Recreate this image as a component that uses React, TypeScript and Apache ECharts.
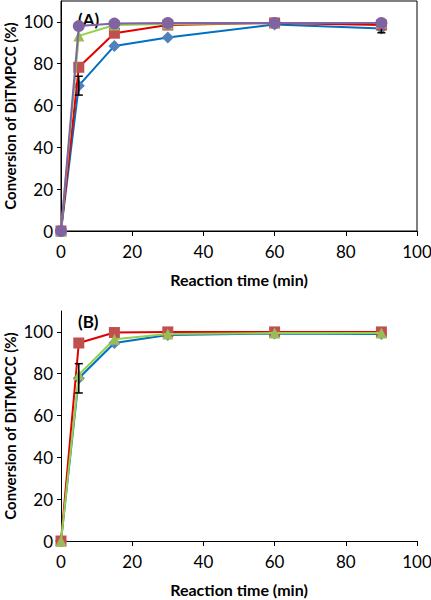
import React, { useEffect, useRef } from "react";
import * as echarts from "echarts";

const time = [0, 5, 15, 30, 60, 90];

const aBlue = [0, 69.5, 88.5, 92.5, 98.8, 96.8];
const aBlueErr = [0, 4.5, 0, 0, 0, 2];
const aRed = [0, 78.3, 94.6, 98.5, 99.5, 98.5];
const aGreen = [0, 93.3, 98.5, 99, 99.5, 99.5];
const aPurple = [0, 98, 99.2, 99.5, 99.5, 99.5];

const bBlue = [0, 77.8, 94.7, 98.5, 99.2, 99];
const bBlueErr = [0, 7, 0, 0, 0, 0];
const bRed = [0, 94.7, 99.7, 100, 100, 100];
const bGreen = [0, 79.5, 96.5, 99, 99.5, 99.5];

const panelLabels = ["(A)", "(B)"];
const xTitle = "Reaction time (min)";
const yTitle = "Conversion of DiTMPCC (%)";

const FONT = "Lato";

const pairs = (ys: number[]) => time.map((t, i) => [t, ys[i]]);
const errTriples = (ys: number[], es: number[]) =>
  time.map((t, i) => [t, ys[i], es[i]]).filter((d) => d[2] > 0);

export default function App() {
  const ref = useRef<HTMLDivElement>(null);
  useEffect(() => {
    const chart = echarts.init(ref.current!, null, { renderer: "svg" });

    const xAxisBase = (gridIndex: number) => ({
      type: "value",
      gridIndex,
      min: 0,
      max: 100,
      interval: 20,
      name: xTitle,
      nameLocation: "middle",
      nameGap: 40,
      nameTextStyle: { fontFamily: FONT, fontWeight: "bold", fontSize: 16, color: "#000" },
      axisLine: { show: true, onZero: false, lineStyle: { color: "#000", width: 1 } },
      axisTick: { show: true, inside: false, length: 5, lineStyle: { color: "#000" } },
      axisLabel: { fontFamily: FONT, fontSize: 17, color: "#000", margin: 12 },
      splitLine: { show: false },
    });
    const yAxisBase = (gridIndex: number) => ({
      type: "value",
      gridIndex,
      min: 0,
      max: 110,
      interval: 20,
      name: yTitle,
      nameLocation: "middle",
      nameGap: 43,
      nameMoveOverlap: false,
      nameTextStyle: { fontFamily: FONT, fontWeight: "bold", fontSize: 15, lineHeight: 16, color: "#000" },
      axisLine: { show: true, onZero: false, lineStyle: { color: "#000", width: 1 } },
      axisTick: { show: true, inside: false, length: 4, lineStyle: { color: "#000" } },
      axisLabel: { fontFamily: FONT, fontSize: 17, color: "#000", margin: 8, showMaxLabel: false },
      splitLine: { show: false },
    });

    const lineSeries = (
      data: number[],
      idx: number,
      lineColor: string,
      markerColor: string,
      symbol: string,
      size: number,
      z: number
    ) => ({
      type: "line",
      xAxisIndex: idx,
      yAxisIndex: idx,
      data: pairs(data),
      symbol,
      symbolSize: size,
      showSymbol: true,
      z,
      lineStyle: { color: lineColor, width: 2 },
      itemStyle: { color: markerColor, borderWidth: 0 },
    });

    const errSeries = (ys: number[], es: number[], idx: number) => ({
      type: "custom",
      xAxisIndex: idx,
      yAxisIndex: idx,
      z: 5,
      data: errTriples(ys, es),
      renderItem: (params: any, api: any) => {
        const x = api.value(0);
        const y = api.value(1);
        const e = api.value(2);
        const hi = api.coord([x, y + e]);
        const lo = api.coord([x, y - e]);
        const w = 4;
        const st = { stroke: "#000", lineWidth: 1.5 };
        return {
          type: "group",
          children: [
            { type: "line", shape: { x1: hi[0], y1: hi[1], x2: lo[0], y2: lo[1] }, style: st },
            { type: "line", shape: { x1: hi[0] - w, y1: hi[1], x2: hi[0] + w, y2: hi[1] }, style: st },
            { type: "line", shape: { x1: lo[0] - w, y1: lo[1], x2: lo[0] + w, y2: lo[1] }, style: st },
          ],
        };
      },
    });

    const BLUE_L = "#0070C0", BLUE_M = "#4F81BD";
    const RED_L = "#E00000", RED_M = "#C0504D";
    const GREEN_L = "#92D050", GREEN_M = "#9BBB59";
    const PURPLE_M = "#8064A2";

    chart.setOption({
      animation: false,
      grid: [
        { left: 61, width: 356, top: 1, height: 230, show: true, borderColor: "#000", borderWidth: 1, backgroundColor: "transparent", outerBoundsMode: "none", containLabel: false },
        { left: 61, width: 356, top: 311, height: 230, show: false, outerBoundsMode: "none", containLabel: false },
      ],
      xAxis: [xAxisBase(0), xAxisBase(1)],
      yAxis: [yAxisBase(0), yAxisBase(1)],
      graphic: [
        { type: "text", left: 78, top: 11, style: { text: panelLabels[0], fontFamily: FONT, fontWeight: "bold", fontSize: 17, fill: "#000" } },
        { type: "text", left: 78, top: 313, style: { text: panelLabels[1], fontFamily: FONT, fontWeight: "bold", fontSize: 17, fill: "#000" } },
      ],
      series: [
        lineSeries(aBlue, 0, BLUE_L, BLUE_M, "diamond", 12, 2),
        errSeries(aBlue, aBlueErr, 0),
        lineSeries(aRed, 0, RED_L, RED_M, "rect", 11, 3),
        lineSeries(aGreen, 0, GREEN_L, GREEN_M, "triangle", 11, 4),
        lineSeries(aPurple, 0, PURPLE_M, PURPLE_M, "circle", 12, 6),
        lineSeries(bBlue, 1, BLUE_L, BLUE_M, "diamond", 12, 2),
        errSeries(bBlue, bBlueErr, 1),
        lineSeries(bRed, 1, RED_L, RED_M, "rect", 11, 3),
        lineSeries(bGreen, 1, GREEN_L, GREEN_M, "triangle", 11, 4),
      ],
    });
    return () => chart.dispose();
  }, []);
  return (
    <div
      ref={ref}
      style={{ position: "absolute", left: 0, top: 0, width: 431, height: 600, background: "#fff" }}
    />
  );
}
